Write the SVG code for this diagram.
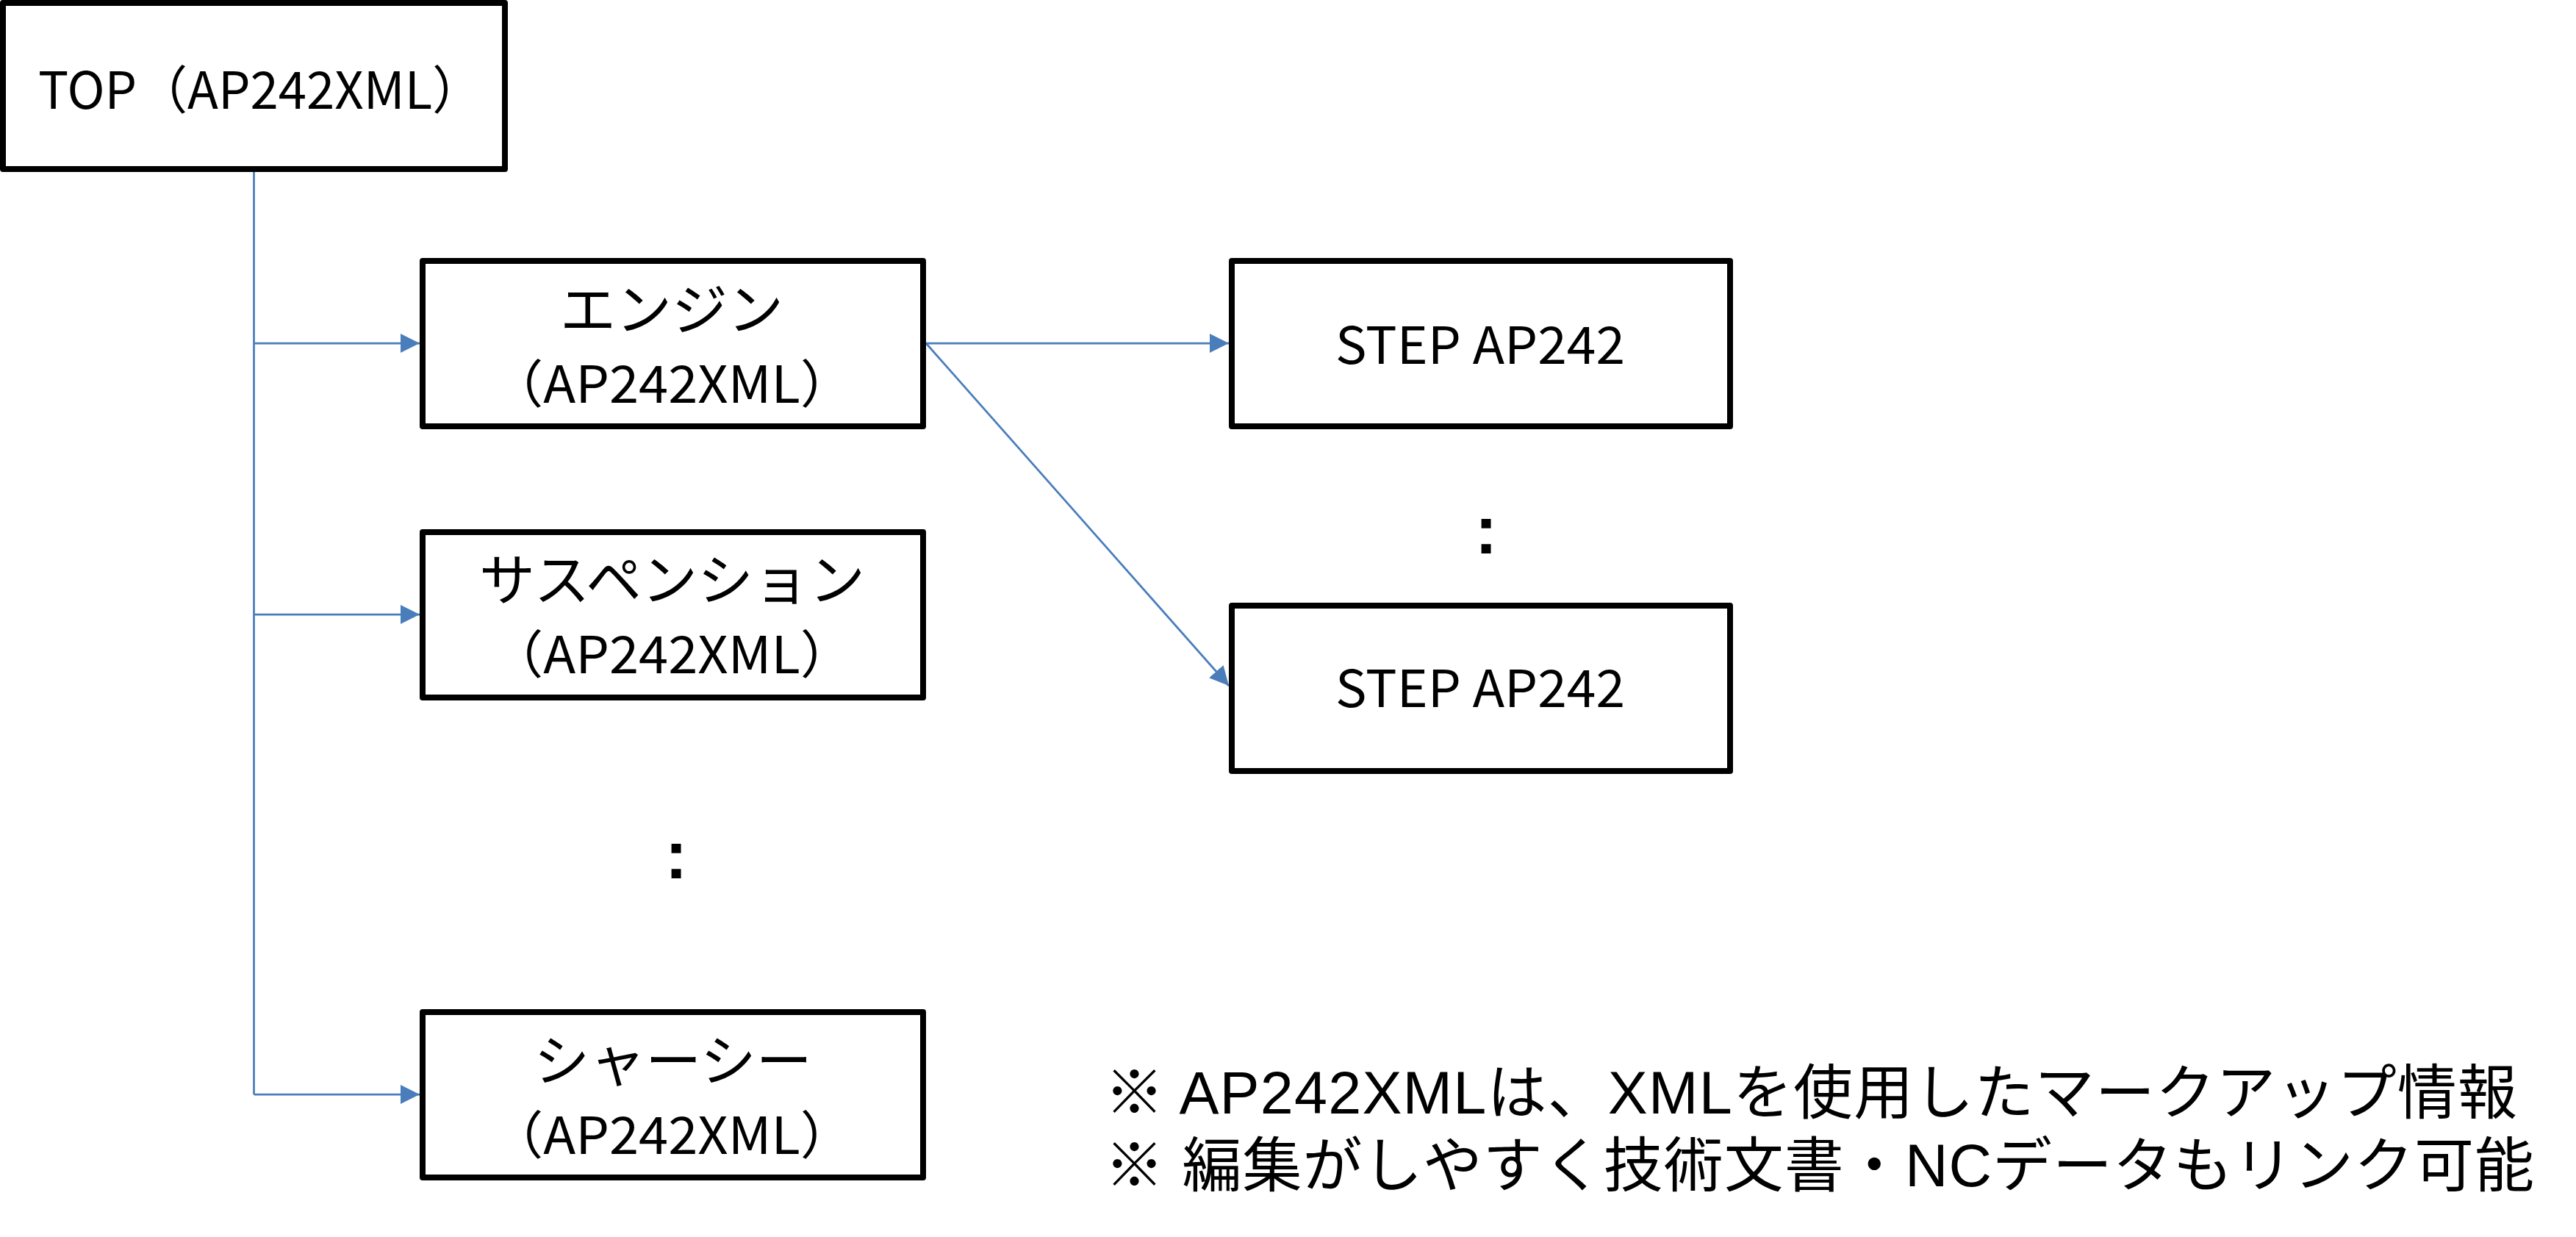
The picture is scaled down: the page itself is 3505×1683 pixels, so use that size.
<svg xmlns="http://www.w3.org/2000/svg" width="3505" height="1683" viewBox="0 0 3505 1683">
<defs>
<style>
.box{fill:#fff;stroke:#000;stroke-width:8;stroke-linejoin:round}
.lat{font-family:"Noto Sans CJK JP","Noto Sans",sans-serif;font-size:70px;fill:#000}
.jp{font-family:"Noto Sans CJK JP",sans-serif;font-size:76px;fill:#000}
.dots{font-family:"Liberation Sans",Arial,sans-serif;font-weight:bold;font-size:92px;fill:#000}
.note{font-family:"Liberation Sans","Noto Sans CJK JP",sans-serif;font-size:81px;fill:#000}
.conn{fill:none;stroke:#4A7EBB;stroke-width:2.75}
</style>
<marker id="arr" markerUnits="userSpaceOnUse" markerWidth="26" markerHeight="26" viewBox="0 0 26 26" refX="26" refY="13" orient="auto">
<path d="M0,0 L26,13 L0,26 Z" fill="#4A7EBB"/>
</marker>
</defs>
<rect width="3505" height="1683" fill="#fff"/>
<g id="connectors">
<path class="conn" d="M345.5,234 V1489"/>
<path class="conn" d="M345.5,467 H571" marker-end="url(#arr)"/>
<path class="conn" d="M345.5,836 H571" marker-end="url(#arr)"/>
<path class="conn" d="M345.5,1489 H571" marker-end="url(#arr)"/>
<path class="conn" d="M1260,467 H1672" marker-end="url(#arr)"/>
<path class="conn" d="M1260,467 L1672,933" marker-end="url(#arr)"/>
</g>
<g id="top">
<rect class="box" x="4" y="4" width="683" height="226"/>
<text class="lat" x="52" y="148" textLength="605" lengthAdjust="spacingAndGlyphs">TOP（AP242XML）</text>
</g>
<g id="engine">
<rect class="box" x="575" y="355" width="681" height="225"/>
<text class="jp" x="914" y="449" text-anchor="middle">エンジン</text>
<text class="lat" x="914" y="548" text-anchor="middle" textLength="494" lengthAdjust="spacingAndGlyphs">（AP242XML）</text>
</g>
<g id="suspension">
<rect class="box" x="575" y="724" width="681" height="225"/>
<text class="jp" x="914.5" y="817" text-anchor="middle">サスペンション</text>
<text class="lat" x="914" y="916" text-anchor="middle" textLength="494" lengthAdjust="spacingAndGlyphs">（AP242XML）</text>
</g>
<g id="ellipsis-left">
<text class="dots" x="920" y="1195" text-anchor="middle">:</text>
</g>
<g id="chassis">
<rect class="box" x="575" y="1377" width="681" height="225"/>
<text class="jp" x="915.5" y="1471" text-anchor="middle">シャーシー</text>
<text class="lat" x="914" y="1570" text-anchor="middle" textLength="494" lengthAdjust="spacingAndGlyphs">（AP242XML）</text>
</g>
<g id="step1">
<rect class="box" x="1676" y="355" width="678" height="225"/>
<text class="lat" x="2014" y="495" text-anchor="middle" textLength="394" lengthAdjust="spacingAndGlyphs">STEP AP242</text>
</g>
<g id="ellipsis-right">
<text class="dots" x="2022" y="753" text-anchor="middle">:</text>
</g>
<g id="step2">
<rect class="box" x="1676" y="824" width="678" height="225"/>
<text class="lat" x="2014" y="962" text-anchor="middle" textLength="394" lengthAdjust="spacingAndGlyphs">STEP AP242</text>
</g>
<g id="notes">
<text class="note" x="1503" y="1515" textLength="1922" lengthAdjust="spacing">※ AP242XMLは、XMLを使用したマークアップ情報</text>
<text class="note" x="1503" y="1614" textLength="1945" lengthAdjust="spacing">※ 編集がしやすく技術文書・NCデータもリンク可能</text>
</g>
</svg>
